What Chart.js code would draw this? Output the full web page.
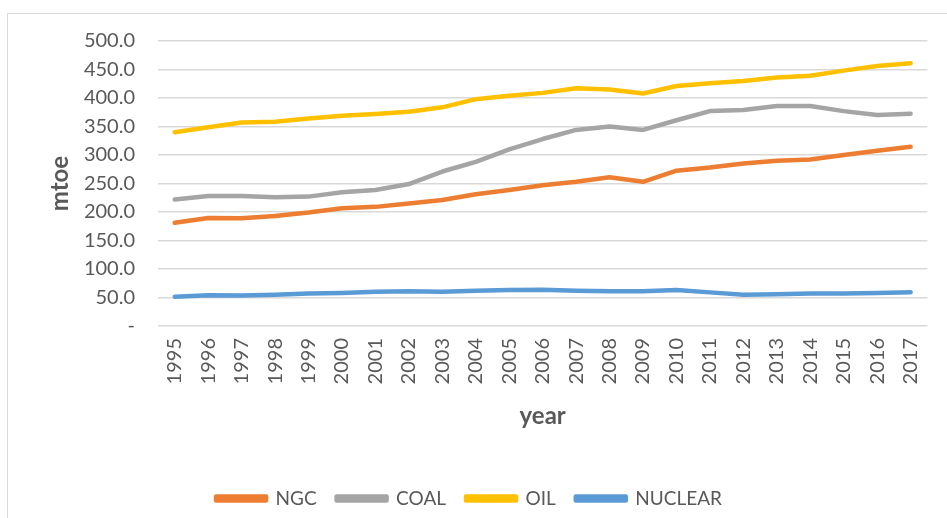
<!DOCTYPE html>
<html>
<head>
<meta charset="utf-8">
<script src="https://cdn.jsdelivr.net/npm/chart.js@4"></script>
<style>
  html, body { margin: 0; padding: 0; background: #fff; }
  #wrap { position: relative; width: 947px; height: 518px; }
  #frame { position: absolute; left: 7px; top: 13px; right: 0; bottom: 0;
           border-top: 1px solid #d9d9d9; border-left: 1px solid #d9d9d9; }
  canvas { position: absolute; left: 0; top: 0; }
</style>
</head>
<body>
<div id="wrap">
  <div id="frame"></div>
  <canvas id="chart" width="947" height="518"></canvas>
</div>
<script>
const years = ["1995", "1996", "1997", "1998", "1999", "2000", "2001", "2002", "2003", "2004", "2005", "2006",
  "2007", "2008", "2009", "2010", "2011", "2012", "2013", "2014", "2015", "2016", "2017"];

const ngc = [181, 189.5, 189, 193, 199, 206.5, 209, 215, 221, 231, 238.6, 247,
  253, 261, 253, 272.5, 278, 285, 290, 292, 300, 307.6, 314.6];
const coal = [222, 228, 228, 226, 227, 234.5, 238.6, 249, 271, 288, 310, 328,
  344, 350, 344, 361, 377, 379, 386, 386, 377, 370, 372.5];
const oil = [340, 348.6, 357, 358.5, 364, 369, 372, 376, 383.6, 398, 404, 409,
  417, 415, 408, 421, 426, 430, 436, 439, 448, 456, 461];
const nuclear = [51.5, 54, 53.5, 55, 57, 58, 60, 61, 60, 62, 63, 63.5,
  62, 61, 61, 63, 59, 55, 55.5, 57, 57, 58, 59];

const textColor = '#595959';
const fontFamily = 'Lato, "Open Sans", sans-serif';

// one dataset per fuel
const makeSeries = (label, data, color) => ({
  label: label,
  data: data,
  borderColor: color,
  backgroundColor: color,
  borderWidth: 4.5,
  pointRadius: 0,
  tension: 0,
  borderCapStyle: 'round',
  borderJoinStyle: 'round'
});

const ctx = document.getElementById('chart').getContext('2d');
new Chart(ctx, {
  type: 'line',
  data: {
    labels: years,
    datasets: [
      makeSeries('NGC', ngc, '#ed7d31'),
      makeSeries('COAL', coal, '#a5a5a5'),
      makeSeries('OIL', oil, '#ffc000'),
      makeSeries('NUCLEAR', nuclear, '#5b9bd5')
    ]
  },
  options: {
    responsive: false,
    animation: false,
    layout: { padding: { left: 8, right: 17, top: 41, bottom: 0 } },
    plugins: {
      tooltip: { enabled: false },
      legend: {
        position: 'bottom',
        labels: {
          color: textColor,
          font: { family: fontFamily, size: 19 },
          boxWidth: 50,
          boxHeight: 4,
          padding: 20
        }
      }
    },
    scales: {
      x: {
        offset: true,
        grid: { display: false, drawTicks: false },
        border: { display: false },
        ticks: {
          color: textColor,
          font: { family: fontFamily, size: 20 },
          minRotation: 90,
          maxRotation: 90,
          autoSkip: false,
          padding: 12
        },
        title: {
          display: true,
          text: 'year',
          color: textColor,
          font: { family: fontFamily, size: 24, weight: 'bold' },
          padding: { top: 4, bottom: 38 }
        },
        afterFit: (scale) => { scale.height = 143; }
      },
      y: {
        min: 0,
        max: 500,
        grid: { color: '#d9d9d9', lineWidth: 1.5, drawTicks: false },
        border: { display: false },
        ticks: {
          stepSize: 50,
          color: textColor,
          font: { family: fontFamily, size: 20 },
          padding: 23,
          callback: (v) => v === 0 ? '-' : v.toFixed(1)
        },
        title: {
          display: true,
          text: 'mtoe',
          color: textColor,
          font: { family: fontFamily, size: 24, weight: 'bold' },
          padding: { top: 38, bottom: 0 }
        },
        afterFit: (scale) => { scale.width = 150; }
      }
    }
  }
});
</script>
</body>
</html>
